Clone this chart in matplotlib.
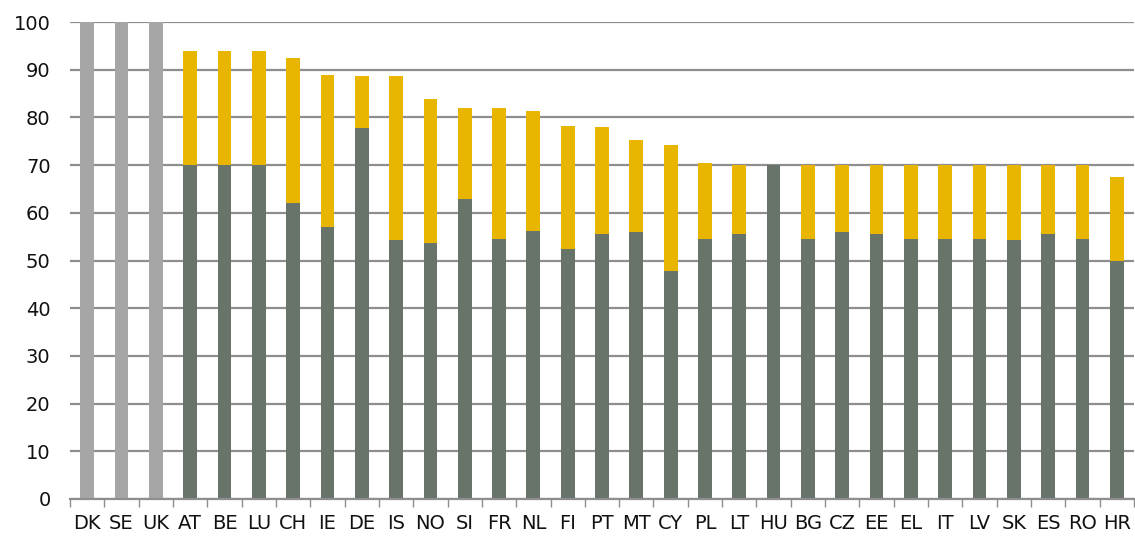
import matplotlib.pyplot as plt
import numpy as np

# Countries whose bar is a single full-height block
full_countries = ["DK", "SE", "UK"]
full_values = [100, 100, 100]

# Countries with a base level and a top-up to the total
split_countries = ["AT", "BE", "LU", "CH", "IE", "DE", "IS", "NO", "SI", "FR",
                   "NL", "FI", "PT", "MT", "CY", "PL", "LT", "HU", "BG", "CZ",
                   "EE", "EL", "IT", "LV", "SK", "ES", "RO", "HR"]
base_values = [70, 70, 70, 62.1, 57.1, 77.7, 54.4, 53.7, 62.9, 54.5,
               56.2, 52.5, 55.6, 56.0, 47.9, 54.5, 55.6, 70, 54.5, 56.0,
               55.6, 54.5, 54.5, 54.5, 54.2, 55.6, 54.5, 50.0]
total_values = [94, 94, 94, 92.4, 88.9, 88.7, 88.6, 83.8, 82.0, 82.0,
                81.4, 78.3, 78.0, 75.3, 74.2, 70.4, 70, 70, 70, 70,
                70, 70, 70, 70, 70, 70, 70, 67.6]

y_ticks = list(range(0, 101, 10))

GREY = "#a6a6a6"
DARK = "#68736a"
GOLD = "#e8b500"
GRID = "#8e8e8e"

fig = plt.figure(figsize=(11.35, 5.38), dpi=100)
ax = fig.add_axes([70 / 1135, 1 - 499 / 538, 1064 / 1135, 477 / 538])

labels = full_countries + split_countries
n = len(labels)
x = np.arange(n)
w = 0.4

xf = x[:len(full_countries)]
xs = x[len(full_countries):]
base = np.array(base_values)
extra = np.array(total_values) - base

ax.bar(xf, full_values, width=w, color=GREY, zorder=3)
ax.bar(xs, base, width=w, color=DARK, zorder=3)
ax.bar(xs, extra, bottom=base, width=w, color=GOLD, zorder=3)

ax.set_xlim(-0.5, n - 0.5)
ax.set_ylim(0, 100)
ax.set_yticks(y_ticks)
ax.yaxis.grid(True, color=GRID, linewidth=1.6, zorder=0)
ax.set_axisbelow(True)

for s in ["left", "right", "top"]:
    ax.spines[s].set_visible(False)
ax.spines["bottom"].set_color(GRID)
ax.spines["bottom"].set_linewidth(1.6)
ax.spines["bottom"].set_zorder(4)

ax.set_xticks(x)
ax.set_xticklabels(labels)
ax.set_xticks(np.arange(-0.5, n, 1.0), minor=True)
ax.tick_params(axis="x", which="major", length=0, pad=11, labelsize=14, colors="#111111")
ax.tick_params(axis="x", which="minor", length=6, width=1, color=GRID, direction="out")
ax.tick_params(axis="y", length=0, pad=14, labelsize=14, colors="#111111")

fig.savefig("out.png", dpi=100)
